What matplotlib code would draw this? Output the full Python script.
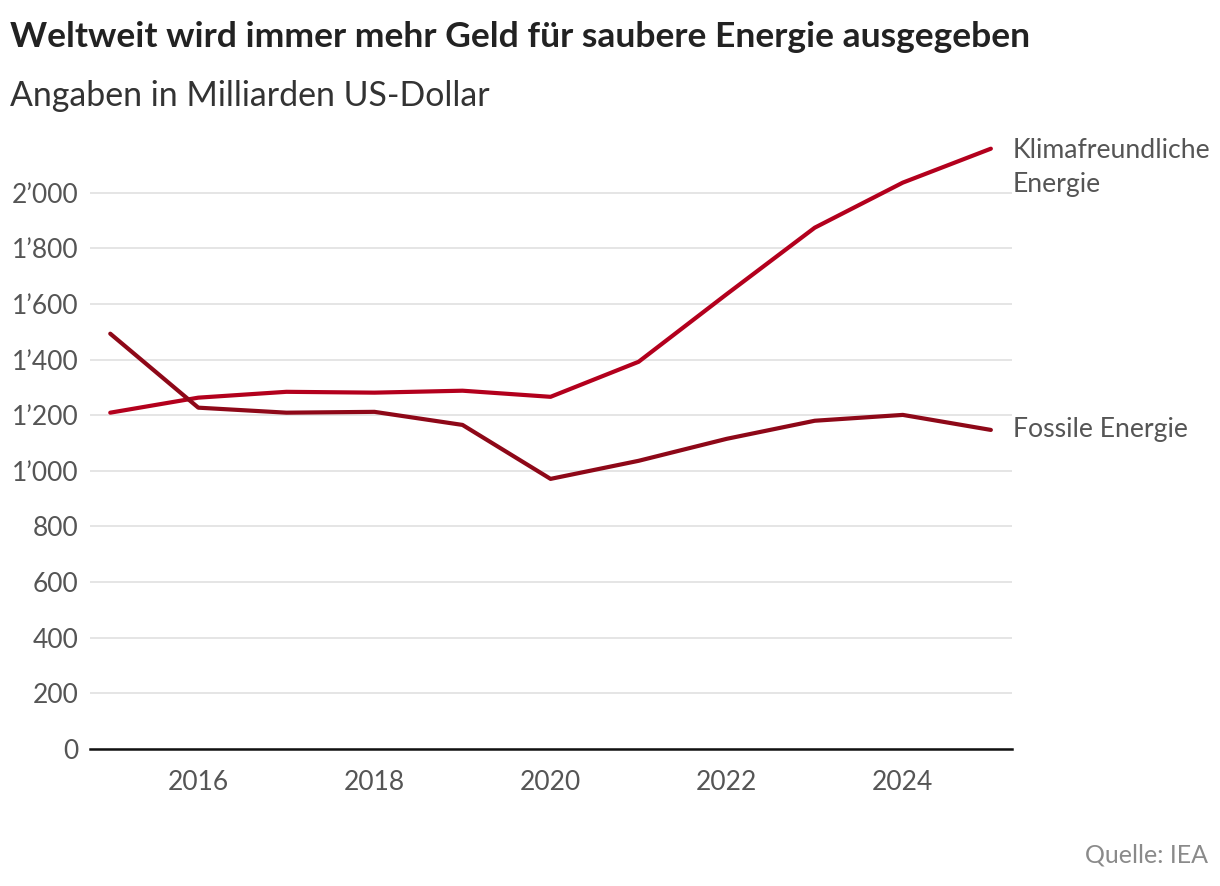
import matplotlib.pyplot as plt
from matplotlib.ticker import FuncFormatter

plt.rcParams['font.family'] = ['Lato', 'DejaVu Sans']

# data, Mrd. USD
years = [2015, 2016, 2017, 2018, 2019, 2020, 2021, 2022, 2023, 2024, 2025]
clean = [1209, 1263, 1284, 1281, 1288, 1266, 1392, 1635, 1874, 2036, 2158]
fossil = [1493, 1227, 1209, 1212, 1165, 971, 1036, 1115, 1180, 1201, 1147]
yticks = [0, 200, 400, 600, 800, 1000, 1200, 1400, 1600, 1800, 2000]
xticks = [2016, 2018, 2020, 2022, 2024]

W, H = 1220, 886
fig = plt.figure(figsize=(W / 100, H / 100), dpi=100)
ax = fig.add_axes([90 / W, 1 - 749 / H, (1012 - 90) / W, (749 - 137) / H])

ax.plot(years, clean, color='#b3001d', lw=3, solid_capstyle='round', zorder=3)
ax.plot(years, fossil, color='#8e0818', lw=3, solid_capstyle='round', zorder=3)

ax.set_xlim(2014.77, 2025.24)
ax.set_ylim(0, 2200)
ax.set_yticks(yticks)
ax.set_xticks(xticks)
ax.yaxis.set_major_formatter(FuncFormatter(lambda v, p: '{:,}'.format(int(v)).replace(',', '\u2019')))
ax.grid(axis='y', color='#e3e3e3', lw=1.3, zorder=0)
for s in ['top', 'right', 'left']:
    ax.spines[s].set_visible(False)
ax.spines['bottom'].set_color('#111111')
ax.spines['bottom'].set_linewidth(1.8)
ax.tick_params(axis='both', length=0, labelsize=19, colors='#555555')
ax.tick_params(axis='y', pad=8.5)
ax.tick_params(axis='x', pad=15)
ax.set_axisbelow(True)

# line labels
ax.annotate('Klimafreundliche\nEnergie', xy=(years[-1], clean[-1]), xytext=(16, 8),
            textcoords='offset points', fontsize=19.2, color='#555555', va='top',
            linespacing=1.45, annotation_clip=False)
ax.annotate('Fossile Energie', xy=(years[-1], fossil[-1]), xytext=(16, 0),
            textcoords='offset points', fontsize=19.2, color='#555555', va='center',
            annotation_clip=False)

fig.text(10 / W, 1 - 37 / H, 'Weltweit wird immer mehr Geld für saubere Energie ausgegeben',
         fontsize=25.5, fontweight='bold', color='#222222', va='center')
fig.text(10 / W, 1 - 96 / H, 'Angaben in Milliarden US-Dollar',
         fontsize=24.4, fontweight='normal', color='#333333', va='center')
fig.text(1208 / W, 1 - 855 / H, 'Quelle: IEA', fontsize=18, color='#8a8a8a',
         ha='right', va='center')

fig.savefig('out.png', dpi=100)
